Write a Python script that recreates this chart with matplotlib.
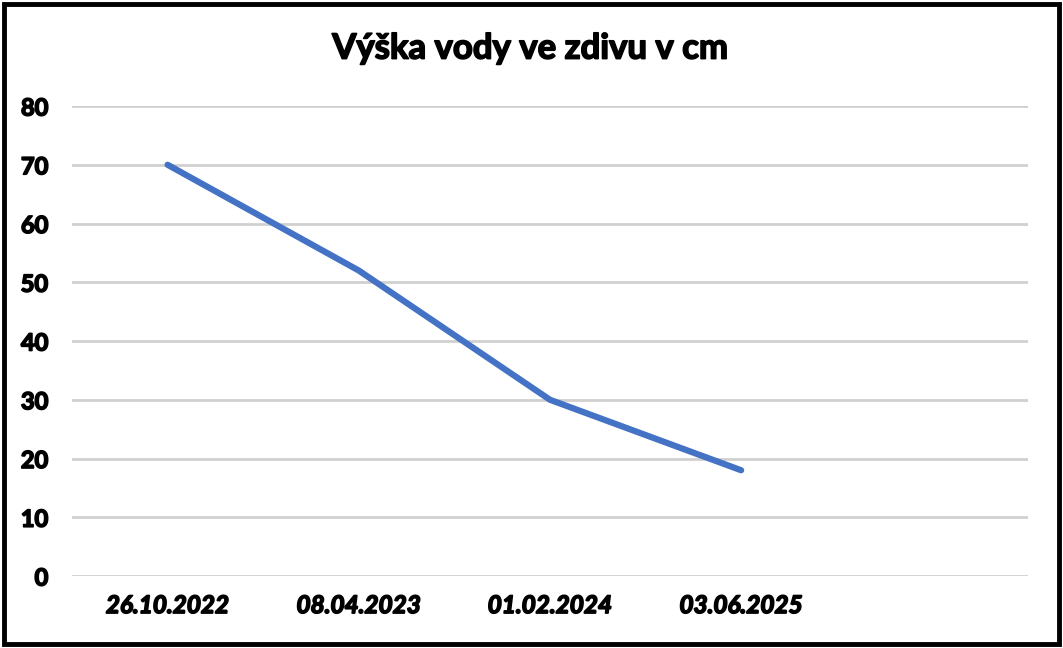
import matplotlib.pyplot as plt
import matplotlib.patheffects as pe
from matplotlib.patches import Rectangle

# Data
dates = ["26.10.2022", "08.04.2023", "01.02.2024", "03.06.2025", ""]
height_cm = [70, 52, 30, 18]
yticks = [0, 10, 20, 30, 40, 50, 60, 70, 80]

plt.rcParams["font.family"] = ["Lato", "DejaVu Sans"]
heavy = [pe.withStroke(linewidth=1.2, foreground="black")]

fig = plt.figure(figsize=(10.63, 6.48), dpi=100)
ax = fig.add_axes([0.0677, 0.1111, 0.8993, 0.7253])

x = list(range(len(dates)))
ax.plot(x[:len(height_cm)], height_cm, color="#4472C4", linewidth=4.5,
        solid_capstyle="round", solid_joinstyle="round", zorder=3)

ax.set_xlim(-0.5, len(dates) - 0.5)
ax.set_ylim(0, 80)
ax.set_yticks(yticks)
ax.set_yticklabels([str(v) for v in yticks], fontsize=17, fontweight="bold")
ax.set_xticks(x)
ax.set_xticklabels(dates, fontsize=17.5, fontweight="bold", fontstyle="italic")
for t in ax.get_xticklabels() + ax.get_yticklabels():
    t.set_path_effects(heavy)
ax.tick_params(axis="both", length=0)
ax.tick_params(axis="y", pad=17)
ax.tick_params(axis="x", pad=13)
ax.grid(axis="y", color="#d0d0d0", linewidth=2)
ax.set_axisbelow(True)
for s in ax.spines.values():
    s.set_visible(False)

fig.text(0.499, 0.925, "Výška vody ve zdivu v cm", ha="center", va="center",
         fontsize=25, fontweight="bold", path_effects=heavy)

# outer black frame
fig.patches.append(Rectangle((0.004, 0.006), 0.992, 0.988, transform=fig.transFigure,
                             fill=False, edgecolor="black", linewidth=3.5))

fig.savefig("out.png", dpi=100)
plt.close(fig)
